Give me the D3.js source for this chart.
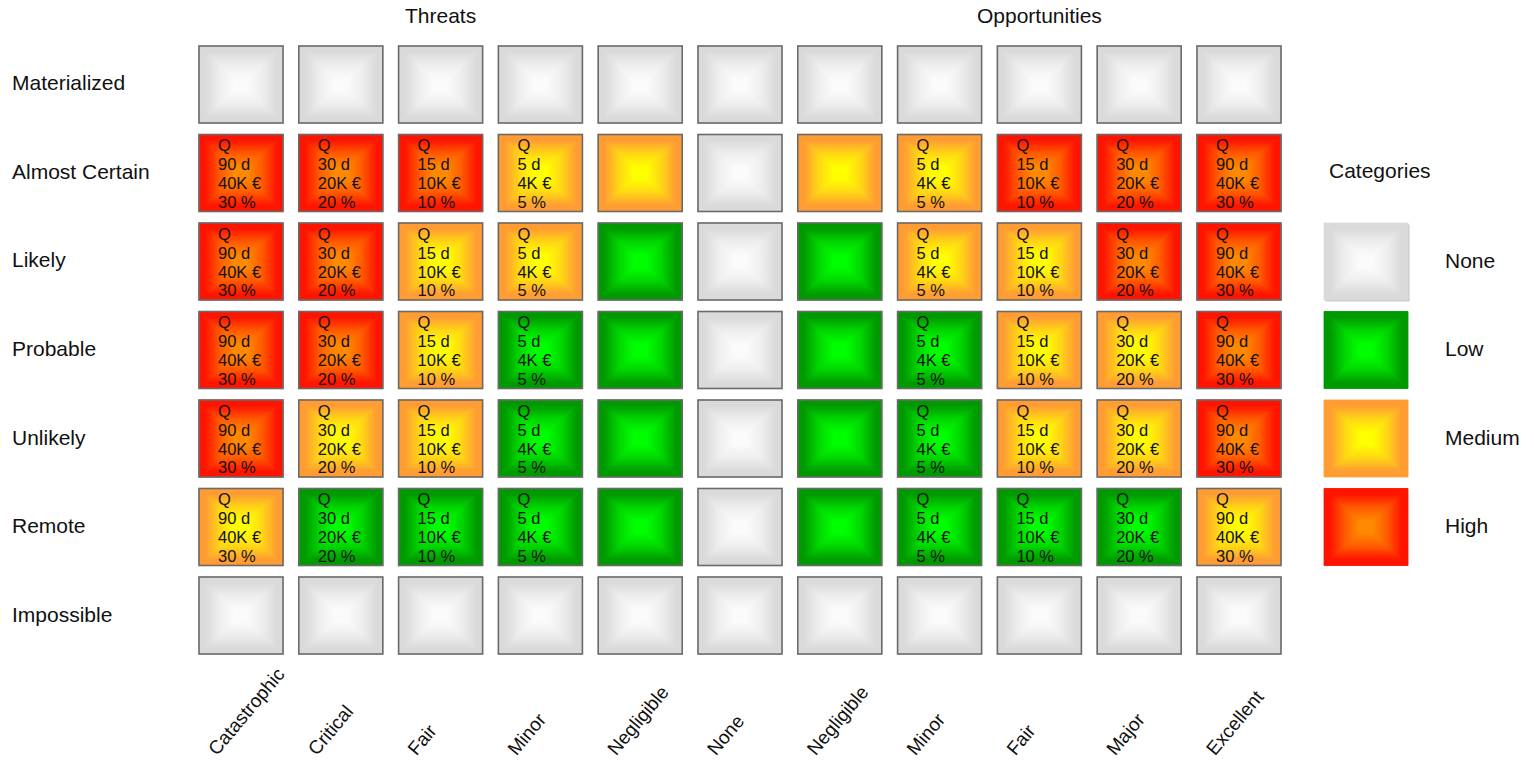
<!DOCTYPE html>
<html>
<head>
<meta charset="utf-8">
<script src="https://cdn.jsdelivr.net/npm/d3@7"></script>
<style>
  html, body { margin: 0; padding: 0; background: #fff; }
  svg { display: block; font-family: "Liberation Sans", Arial, sans-serif; }
</style>
</head>
<body>
<svg id="chart" width="1534" height="761"></svg>
<script>
// ---- data ----
const rowLabels = ["Materialized", "Almost Certain", "Likely", "Probable", "Unlikely", "Remote", "Impossible"];
const colLabels = ["Catastrophic", "Critical", "Fair", "Minor", "Negligible", "None",
                   "Negligible", "Minor", "Fair", "Major", "Excellent"];
const groupLabels = ["Threats", "Opportunities"];
const groupSpans = [[0, 4], [6, 10]];
const categories = ["None", "Low", "Medium", "High"];

const rowMaterialized  = ["None","None","None","None","None","None","None","None","None","None","None"];
const rowAlmostCertain = ["High","High","High","Medium","Medium","None","Medium","Medium","High","High","High"];
const rowLikely        = ["High","High","Medium","Medium","Low","None","Low","Medium","Medium","High","High"];
const rowProbable      = ["High","High","Medium","Low","Low","None","Low","Low","Medium","Medium","High"];
const rowUnlikely      = ["High","Medium","Medium","Low","Low","None","Low","Low","Medium","Medium","High"];
const rowRemote        = ["Medium","Low","Low","Low","Low","None","Low","Low","Low","Low","Medium"];
const rowImpossible    = ["None","None","None","None","None","None","None","None","None","None","None"];
const levels = [rowMaterialized, rowAlmostCertain, rowLikely, rowProbable, rowUnlikely, rowRemote, rowImpossible];

const rowsWithText = [1, 2, 3, 4, 5];
const days  = ["90 d", "30 d", "15 d", "5 d", null, null, null, "5 d", "15 d", "30 d", "90 d"];
const costs = ["40K €", "20K €", "10K €", "4K €", null, null, null, "4K €", "10K €", "20K €", "40K €"];
const pcts  = ["30 %", "20 %", "10 %", "5 %", null, null, null, "5 %", "10 %", "20 %", "30 %"];

// ---- styles ----
const catColors = {
  None:   { edge: "#dadada", center: "#fbfbfb" },
  Low:    { edge: "#009a00", center: "#00ff00" },
  Medium: { edge: "#ff9c33", center: "#ffff00" },
  High:   { edge: "#ff1400", center: "#ff8a00" }
};
const labelSize = 21;

const svg = d3.select("#chart");
const defs = svg.append("defs");

const dirs = {
  top:    { x1: 0, y1: 0, x2: 0, y2: 1 },
  bottom: { x1: 0, y1: 1, x2: 0, y2: 0 },
  left:   { x1: 0, y1: 0, x2: 1, y2: 0 },
  right:  { x1: 1, y1: 0, x2: 0, y2: 0 }
};
categories.forEach(c => {
  Object.entries(dirs).forEach(([d, v]) => {
    const g = defs.append("linearGradient")
      .attr("id", `g-${c}-${d}`)
      .attr("x1", v.x1).attr("y1", v.y1).attr("x2", v.x2).attr("y2", v.y2);
    const col = catColors[c];
    const mid = d3.interpolateRgb(col.edge, col.center);
    g.append("stop").attr("offset", 0).attr("stop-color", col.edge);
    g.append("stop").attr("offset", 0.15).attr("stop-color", col.edge);
    g.append("stop").attr("offset", 0.5).attr("stop-color", mid(0.6));
    g.append("stop").attr("offset", 0.85).attr("stop-color", col.center);
    g.append("stop").attr("offset", 1).attr("stop-color", col.center);
  });
});

// ---- scales ----
const x = d3.scaleBand().domain(d3.range(colLabels.length)).range([199, 1281]).paddingInner(0.158).paddingOuter(0);
const y = d3.scaleBand().domain(d3.range(rowLabels.length)).range([46, 654]).paddingInner(0.13).paddingOuter(0);
const w = x.bandwidth(), h = y.bandwidth();

function pyramid(sel, cat, bw, bh) {
  const cx = bw / 2, cy = bh / 2;
  const polys = {
    top:    [[0, 0], [bw, 0], [cx, cy]],
    bottom: [[0, bh], [bw, bh], [cx, cy]],
    left:   [[0, 0], [0, bh], [cx, cy]],
    right:  [[bw, 0], [bw, bh], [cx, cy]]
  };
  Object.entries(polys).forEach(([d, pts]) => {
    sel.append("polygon")
      .attr("points", pts.map(p => p.join(",")).join(" "))
      .attr("fill", `url(#g-${cat}-${d})`)
      .attr("stroke", `url(#g-${cat}-${d})`)
      .attr("stroke-width", 0.8)
      .attr("stroke-linejoin", "round");
  });
}

// ---- cells ----
const cells = [];
levels.forEach((row, r) => row.forEach((cat, c) => cells.push({ r, c, cat })));

const cellG = svg.append("g").selectAll("g.cell").data(cells).join("g")
  .attr("class", "cell")
  .attr("transform", d => `translate(${x(d.c)},${y(d.r)})`);

cellG.each(function (d) {
  const g = d3.select(this);
  g.append("rect").attr("width", w).attr("height", h).attr("fill", catColors[d.cat].edge);
  pyramid(g, d.cat, w, h);
  g.append("rect").attr("width", w).attr("height", h)
    .attr("fill", "none").attr("stroke", "#6a6a6a").attr("stroke-width", 1.6);
  if (rowsWithText.includes(d.r) && days[d.c] !== null) {
    const lines = ["Q", days[d.c], costs[d.c], pcts[d.c]];
    const offs = [16.5, 35.5, 54.5, 73];
    lines.forEach((t, i) => {
      g.append("text").attr("x", 19).attr("y", offs[i])
        .attr("font-size", 16.5).attr("fill", "#111").text(t);
    });
  }
});

// ---- row labels ----
svg.append("g").selectAll("text").data(rowLabels).join("text")
  .attr("x", 12).attr("y", (d, i) => y(i) + h / 2 - 1.5)
  .attr("dominant-baseline", "central")
  .attr("font-size", labelSize).attr("fill", "#111")
  .text(d => d);

// ---- group headers ----
svg.append("g").selectAll("text").data(groupLabels).join("text")
  .attr("x", (d, i) => (x(groupSpans[i][0]) + x(groupSpans[i][1]) + w) / 2)
  .attr("y", 15)
  .attr("dominant-baseline", "central")
  .attr("text-anchor", "middle")
  .attr("font-size", labelSize).attr("fill", "#111")
  .text(d => d);

// ---- column labels ----
svg.append("g").selectAll("text").data(colLabels).join("text")
  .attr("transform", (d, i) => `translate(${x(i) + w / 2 - 24},756.5) rotate(-50)`)
  .attr("font-size", 19).attr("fill", "#111")
  .text(d => d);

// ---- legend ----
const legendRows = [2, 3, 4, 5];
const lx = 1324;
svg.append("text").attr("x", 1329).attr("y", y(1) + h / 2 - 2.5)
  .attr("dominant-baseline", "central")
  .attr("font-size", labelSize).attr("fill", "#111").text("Categories");

const legG = svg.append("g").selectAll("g").data(categories).join("g")
  .attr("transform", (d, i) => `translate(${lx},${y(legendRows[i])})`);
legG.each(function (d) {
  const g = d3.select(this);
  if (d === "None") {
    g.append("rect").attr("x", 1.5).attr("y", 1.5).attr("width", w).attr("height", h).attr("fill", "#c9c9c9");
  }
  g.append("rect").attr("width", w).attr("height", h).attr("fill", catColors[d].edge);
  pyramid(g, d, w, h);
});
legG.append("text").attr("x", 121).attr("y", h / 2 - 1)
  .attr("dominant-baseline", "central")
  .attr("font-size", labelSize).attr("fill", "#111").text(d => d);
</script>
</body>
</html>
